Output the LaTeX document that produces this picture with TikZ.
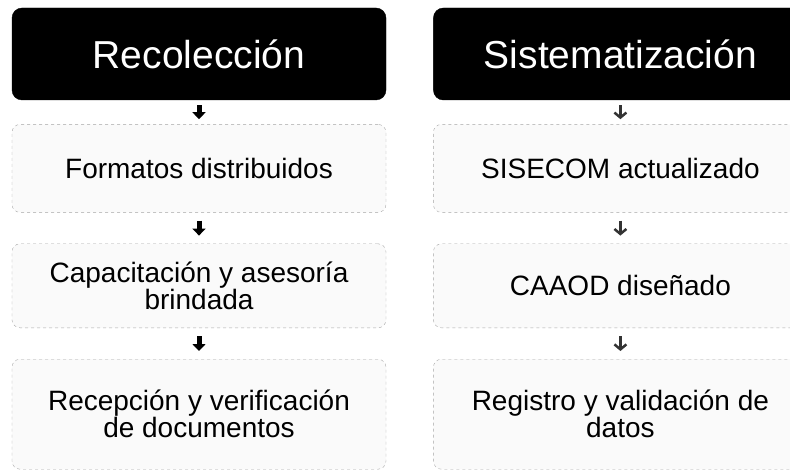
\documentclass[tikz,border=0pt]{standalone}
\usepackage{fontspec}
\setmainfont{Liberation Sans}
\usetikzlibrary{positioning,arrows.meta}
\tikzset{titulo/.style={draw=black, fill=black, rounded corners=10pt, minimum width=374pt, minimum height=92pt, text=white, font=\fontsize{39}{41}\selectfont}}
\tikzset{caja/.style={draw=gray!70, dashed, rounded corners=8pt, fill=gray!4, minimum width=374pt, align=center, font=\fontsize{28}{27}\selectfont}}
\tikzset{flecha/.style={draw=black, line width=5pt, -{Triangle[width=13pt,length=7pt]}, shorten <=8pt, shorten >=8pt}}
\tikzset{flechab/.style={draw=black!80, line width=2.5pt, -{Straight Barb[width=12pt,length=5pt]}, shorten <=8pt, shorten >=8pt}}

\begin{document}
\begin{tikzpicture}[x=1pt,y=-1pt]
			\useasboundingbox (0,0) rectangle (790,473);
			\node [titulo]                                         (rec)    at (199,54) {Recolección};
			\node [titulo, right=47pt of rec]                      (sis)    {Sistematización};
			\node [caja, minimum height=88pt, below=24pt of rec]   (rec1)   {Formatos distribuidos};
			\node [caja, minimum height=84pt, below=31pt of rec1]  (rec2)   {Capacitación y asesoría\\ brindada};
			\node [caja, minimum height=110pt, below=31pt of rec2] (rec3)   {Recepción y verificación\\ de documentos};
			\node [caja, minimum height=88pt, below=24pt of sis]   (sis1)   {SISECOM actualizado};
			\node [caja, minimum height=84pt, below=31pt of sis1]  (sis2)   {CAAOD diseñado};
			\node [caja, minimum height=110pt, below=31pt of sis2] (sis3)   {Registro y validación de\\ datos};
			%
			\path [flecha, shorten <=5pt, shorten >=5pt]  (rec)  -- (rec1);
			\path [flecha]  (rec1) -- (rec2);
			\path [flecha]  (rec2) -- (rec3);
			\path [flechab, shorten <=5pt, shorten >=5pt] (sis)  -- (sis1);
			\path [flechab] (sis1) -- (sis2);
			\path [flechab] (sis2) -- (sis3);
			\end{tikzpicture}
\end{document}
